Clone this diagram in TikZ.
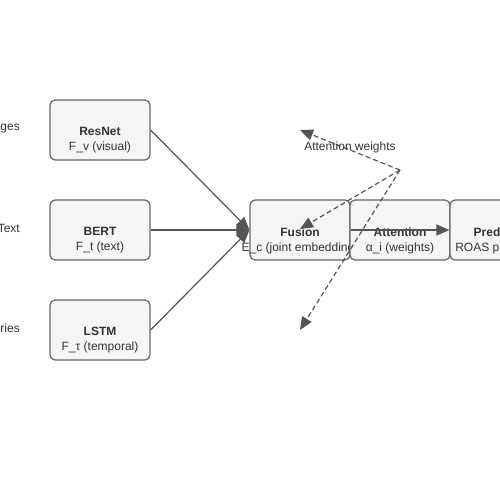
\documentclass[tikz,border=0pt]{standalone}
\usepackage{fontspec}
\setmainfont{Liberation Sans}
\usepackage{xcolor}
\usepackage{tikz}
\usetikzlibrary{arrows.meta,positioning}
\definecolor{boxfill}{HTML}{F5F5F5}
\definecolor{boxline}{HTML}{666666}
\definecolor{inktext}{HTML}{333333}
\definecolor{wire}{HTML}{555555}
\tikzset{>={Triangle[length=13pt,width=11pt]}}
\tikzset{
    block/.style={rectangle,rounded corners=5pt,draw=boxline,fill=boxfill,line width=1.2pt,minimum width=100pt,minimum height=60pt,inner sep=0pt},
    blocktext/.style={align=center,text=inktext,inner sep=0pt,font=\fontsize{12}{15}\selectfont},
    source/.style={anchor=east,text=inktext,inner sep=0pt,font=\fontsize{12}{14}\selectfont},
    edgelabel/.style={text=inktext,inner sep=0pt,font=\fontsize{12}{14}\selectfont},
    flow/.style={draw=wire,line width=1.2pt,->},
    weights/.style={draw=wire,line width=1.2pt,dashed,dash pattern=on 5pt off 3pt,->},
}

\begin{document}
\begin{tikzpicture}[x=1pt,y=-1pt]
            \clip (0,0) rectangle (500,500);
            \node[source] (img) at (20,128) {Images};
            \node[source] (txt) at (20,228) {Text};
            \node[source] (ser) at (20,328) {Time series};
            \node[block] (resnet) at (100,130) {};
            \node[block] (bert) at (100,230) {};
            \node[block] (lstm) at (100,330) {};
            \node[block] (fusion) at (300,230) {};
            \node[blocktext] (fusiontext) at (300,240.5) {\textbf{Fusion}\\E\_c (joint embedding)};
            \node[block] (attn) at (400,230) {};
            \node[block] (pred) at (500,230) {};
            \node[blocktext] (resnettext) at (100,140.5) {\textbf{ResNet}\\F\_v (visual)};
            \node[blocktext] (berttext) at (100,240.5) {\textbf{BERT}\\F\_t (text)};
            \node[blocktext] (lstmtext) at (100,340.5) {\textbf{LSTM}\\F\_τ (temporal)};
            \node[blocktext] (attntext) at (400,240.5) {\textbf{Attention}\\α\_i (weights)};
            \node[blocktext] (predtext) at (500,240.5) {\textbf{Predictor}\\ROAS prediction};
            \draw[flow] (resnet.east) -- (fusion.west);
            \draw[flow] (bert.east) -- (fusion.west);
            \draw[flow] (lstm.east) -- (fusion.west);
            \draw[flow] (fusion.east) -- (pred.west);
            % attention weights fan back out
            \coordinate (hub) at (400,170);
            \coordinate (wres) at (300,130);
            \coordinate (wfus) at (300,229);
            \coordinate (wlstm) at (300,330);
            \draw[weights] (hub) -- node[edgelabel,yshift=3pt] (wlabel) {Attention weights} (wres);
            \draw[weights] (hub) -- (wfus);
            \draw[weights] (hub) -- (wlstm);
        \end{tikzpicture}
\end{document}
